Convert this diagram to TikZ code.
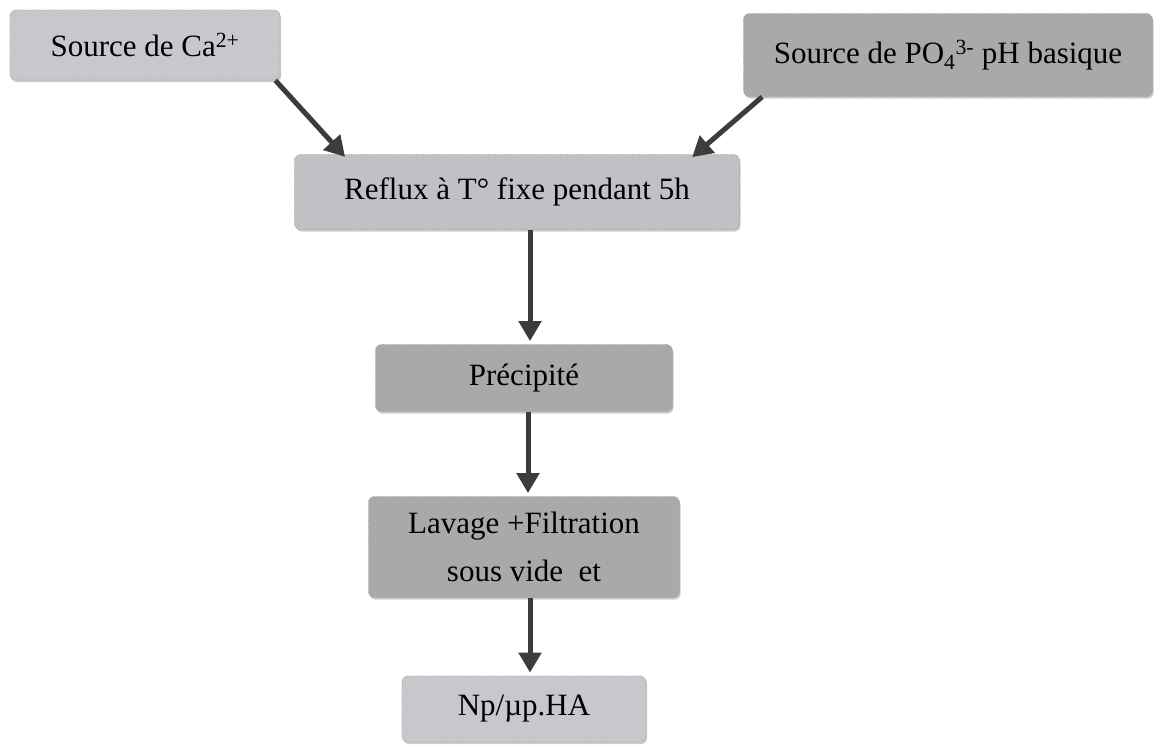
\documentclass[tikz,border=0pt]{standalone}
\usepackage{fontspec}
\setmainfont{Liberation Serif}
\usepackage{tikz}
\usetikzlibrary{arrows.meta,shadows}

\definecolor{boxlight}{HTML}{C6C8CC}
\definecolor{boxmid}{HTML}{A9A9A9}
\definecolor{arrowgray}{HTML}{3C3C3C}

\tikzset{
  stepbox/.style={rounded corners=6pt, draw=gray!70, densely dotted, line width=0.8pt,
    align=center, inner sep=0pt, font=\fontsize{31}{38}\selectfont,
    drop shadow={shadow xshift=1pt, shadow yshift=-2pt, fill=gray!80}},
  flow/.style={line width=5pt, arrowgray, -{Triangle[length=20pt,width=22pt]}, shorten >=3pt}
}

\begin{document}
\begin{tikzpicture}[x=1pt,y=-1pt]
                \useasboundingbox (0,0) rectangle (1156,755);

                \node[stepbox, fill=boxlight, minimum width=270pt, minimum height=70pt](ca) at (145,45) {Source de Ca\textsuperscript{2+}};
                \node[stepbox, fill=boxmid, minimum width=409pt, minimum height=83pt](po) at (948,55) {Source de PO\textsubscript{4}\textsuperscript{3-} pH basique};
                \node[stepbox, fill=boxlight!90!gray, minimum width=445pt, minimum height=75pt](reflux) at (517,192) {Reflux à T° fixe pendant 5h};
                \node[stepbox, fill=boxmid, minimum width=297pt, minimum height=67pt](prec) at (524,378) {Précipité};
                \node[stepbox, fill=boxmid, minimum width=311pt, minimum height=101pt, font=\fontsize{31}{48}\selectfont](lavage) at (524,547) {Lavage +Filtration\\sous vide\ \ et};
                \node[stepbox, fill=boxlight, minimum width=244pt, minimum height=66pt](np) at (524,709) {Np/µp.HA};

                                \draw[flow] ([xshift=-5pt]ca.south east) -- ([xshift=53pt,yshift=-5pt]reflux.north west);
                                \draw[flow] ([xshift=19pt]po.south west) -- ([xshift=-50pt,yshift=-5pt]reflux.north east);

                                \draw[flow] ([xshift=6pt]reflux.south -| prec.north) -- ([xshift=6pt]prec.north);
                                \draw[flow] ([xshift=4pt]prec.south) -- ([xshift=4pt]lavage.north);
                                \draw[flow] ([xshift=6pt]lavage.south) -- ([xshift=6pt]np.north);

        \end{tikzpicture}
\end{document}
